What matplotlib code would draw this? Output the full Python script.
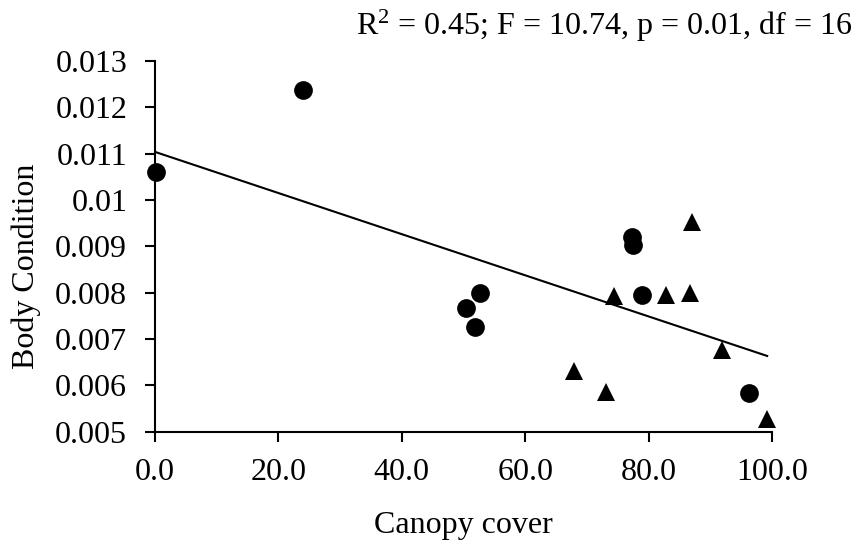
import matplotlib
matplotlib.use("Agg")
import matplotlib.pyplot as plt
import numpy as np

plt.rcParams['font.family'] = ['Liberation Serif', 'DejaVu Serif']
plt.rcParams['mathtext.fontset'] = 'custom'
plt.rcParams['mathtext.rm'] = 'Liberation Serif'
plt.rcParams['mathtext.it'] = 'Liberation Serif:italic'
plt.rcParams['mathtext.default'] = 'regular'

# Data: circles (group 1) and triangles (group 2)
circle_x = [0.2, 24.0, 52.6, 50.4, 51.8, 77.3, 77.5, 78.9, 96.2]
circle_y = [0.01060, 0.012375, 0.00799, 0.00768, 0.00725, 0.00920, 0.00903, 0.00795, 0.00583]
tri_x = [74.4, 82.8, 86.7, 87.0, 67.9, 73.1, 91.8, 99.2]
tri_y = [0.00793, 0.00796, 0.00799, 0.00952, 0.00632, 0.00585, 0.00676, 0.00527]

# Regression line
fit_intercept = 0.01104
fit_slope = -4.44e-5

x_ticks = [0, 20, 40, 60, 80, 100]
x_tick_labels = ["0.0", "20.0", "40.0", "60.0", "80.0", "100.0"]
y_ticks = [0.005, 0.006, 0.007, 0.008, 0.009, 0.010, 0.011, 0.012, 0.013]
y_tick_labels = ["0.005", "0.006", "0.007", "0.008", "0.009", "0.01", "0.011", "0.012", "0.013"]

stats_text = "R$^{2}$ = 0.45; F = 10.74, p = 0.01, df = 16"
x_label = "Canopy cover"
y_label = "Body Condition"

FS = 23

fig = plt.figure(figsize=(8.56, 5.5), dpi=100)
ax = fig.add_axes([0.181, 0.215, 0.721, 0.674])

line_x = np.array([0.0, max(tri_x + circle_x)])
ax.plot(line_x, fit_intercept + fit_slope * line_x, color='black', lw=1.5, zorder=2)

ax.plot(circle_x, circle_y, 'o', color='black', ms=13.5, mew=0, zorder=3, clip_on=False)
ax.plot(tri_x, tri_y, '^', color='black', ms=13.5, mew=0, zorder=3, clip_on=False)

ax.set_xlim(0, 100)
ax.set_ylim(0.005, 0.013)
ax.set_xticks(x_ticks)
ax.set_xticklabels(x_tick_labels)
ax.set_yticks(y_ticks)
ax.set_yticklabels(y_tick_labels)

for s in ['top', 'right']:
    ax.spines[s].set_visible(False)
for s in ['left', 'bottom']:
    ax.spines[s].set_linewidth(1.5)

ax.tick_params(axis='both', direction='out', length=7, width=1.5, labelsize=FS, colors='black')
ax.tick_params(axis='x', pad=12)
ax.tick_params(axis='y', pad=13)

fig.text(463.5 / 856, 1 - 525.5 / 550, x_label, ha='center', va='center', fontsize=FS)
fig.text(26 / 856, 1 - 266 / 550, y_label, ha='center', va='center', rotation=90, fontsize=FS)

fig.text(0.995, 1 - 35 / 550, stats_text, ha='right', va='baseline', fontsize=FS)

fig.savefig("out.png", dpi=100)
